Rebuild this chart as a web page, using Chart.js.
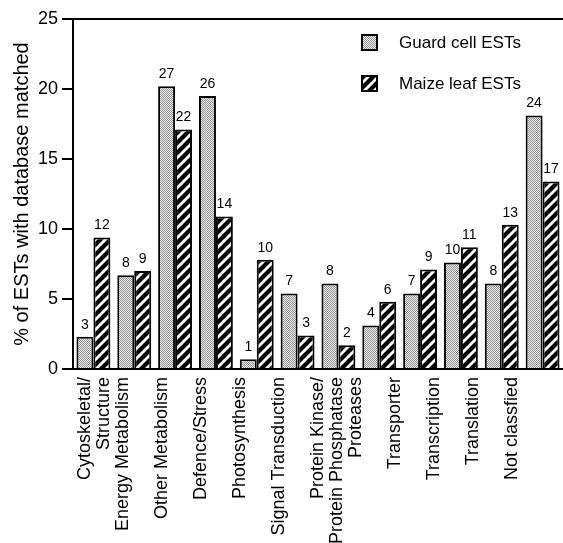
<!DOCTYPE html>
<html>
<head>
<meta charset="utf-8">
<script src="https://cdn.jsdelivr.net/npm/chart.js@4.4.1/dist/chart.umd.min.js"></script>
<style>
  html, body { margin: 0; padding: 0; background: #fff; }
  #wrap { width: 563px; height: 543px; position: relative; }
</style>
</head>
<body>
<div id="wrap"><canvas id="graficoEST"></canvas></div>
<script>
// categorias (rótulos do eixo x)
const categorias = [
  ['Cytoskeletal/', 'Structure'],
  'Energy Metabolism',
  'Other Metabolism',
  'Defence/Stress',
  'Photosynthesis',
  'Signal Transduction',
  ['Protein Kinase/', 'Protein Phosphatase'],
  'Proteases',
  'Transporter',
  'Transcription',
  'Translation',
  'Not classfied'
];

// % de ESTs por série
const guardCell = [2.3, 6.7, 20.2, 19.5, 0.7, 5.4, 6.1, 3.1, 5.4, 7.6, 6.1, 18.1];
const maizeLeaf = [9.4, 7.0, 17.1, 10.9, 7.8, 2.4, 1.7, 4.8, 7.1, 8.7, 10.3, 13.4];

// contagens escritas em cima das barras
const guardN = [3, 8, 27, 26, 1, 7, 8, 4, 7, 10, 8, 24];
const maizeN = [12, 9, 22, 14, 10, 3, 2, 6, 9, 11, 13, 17];

const yTicks = [0, 5, 10, 15, 20, 25];
const nomesSeries = ['Guard cell ESTs', 'Maize leaf ESTs'];

Chart.defaults.font.family = '"Liberation Sans", Arial, Helvetica, sans-serif';
Chart.defaults.color = '#000';

// padrão pontilhado cinza
function padraoPontos() {
  const c = document.createElement('canvas');
  c.width = 4; c.height = 4;
  const g = c.getContext('2d');
  g.fillStyle = '#ececec';
  g.fillRect(0, 0, 4, 4);
  g.fillStyle = '#959595';
  for (let x = 0; x < 4; x++) {
    for (let y = 0; y < 4; y++) {
      if ((x + y) % 2 === 0) g.fillRect(x, y, 1, 1);
    }
  }
  return g.createPattern(c, 'repeat');
}

// padrão listrado diagonal preto/branco
function padraoListras() {
  const c = document.createElement('canvas');
  c.width = 10; c.height = 10;
  const g = c.getContext('2d');
  g.fillStyle = '#fff';
  g.fillRect(0, 0, 10, 10);
  g.strokeStyle = '#000';
  g.lineWidth = 4.2;
  [[0, 10, 10, 0], [-5, 5, 5, -5], [5, 15, 15, 5]].forEach(l => {
    g.beginPath();
    g.moveTo(l[0], l[1]);
    g.lineTo(l[2], l[3]);
    g.stroke();
  });
  return g.createPattern(c, 'repeat');
}

const fillGuard = padraoPontos();
const fillMaize = padraoListras();

// números acima das barras
const rotulosBarras = {
  id: 'rotulosBarras',
  afterDatasetsDraw(chart) {
    const ctx = chart.ctx;
    const contagens = [guardN, maizeN];
    ctx.save();
    ctx.font = '14px "Liberation Sans", Arial, sans-serif';
    ctx.fillStyle = '#000';
    ctx.textAlign = 'center';
    ctx.textBaseline = 'bottom';
    contagens.forEach((arr, di) => {
      chart.getDatasetMeta(di).data.forEach((el, i) => {
        ctx.fillText(String(arr[i]), el.x, el.y - 5);
      });
    });
    ctx.restore();
  }
};

// legenda dentro da área do gráfico
const legendaInterna = {
  id: 'legendaInterna',
  afterDraw(chart) {
    const ctx = chart.ctx;
    const a = chart.chartArea;
    const fills = [fillGuard, fillMaize];
    ctx.save();
    ctx.font = '17px "Liberation Sans", Arial, sans-serif';
    ctx.textBaseline = 'middle';
    ctx.textAlign = 'left';
    nomesSeries.forEach((nome, i) => {
      const bx = a.left + 289;
      const by = a.top + 16 + i * 41;
      ctx.fillStyle = fills[i];
      ctx.fillRect(bx, by, 15, 15);
      ctx.strokeStyle = '#000';
      ctx.lineWidth = 2;
      ctx.strokeRect(bx, by, 15, 15);
      ctx.fillStyle = '#000';
      ctx.fillText(nome, bx + 37, by + 8);
    });
    ctx.restore();
  }
};

const semPadding = (scale) => { scale.paddingLeft = 0; scale.paddingRight = 0; };

new Chart(document.getElementById('graficoEST'), {
  type: 'bar',
  data: {
    labels: categorias.map((c, i) => i),
    datasets: [
      {
        label: nomesSeries[0],
        data: guardCell,
        backgroundColor: fillGuard,
        borderColor: '#000',
        borderWidth: 2,
        categoryPercentage: 0.83,
        barPercentage: 1.0
      },
      {
        label: nomesSeries[1],
        data: maizeLeaf,
        backgroundColor: fillMaize,
        borderColor: '#000',
        borderWidth: 2,
        categoryPercentage: 0.83,
        barPercentage: 1.0
      }
    ]
  },
  plugins: [rotulosBarras, legendaInterna],
  options: {
    responsive: true,
    maintainAspectRatio: false,
    animation: false,
    layout: { padding: { top: 19, right: 0, left: 0, bottom: 0 } },
    plugins: {
      legend: { display: false },
      tooltip: { enabled: false }
    },
    scales: {
      x: {
        position: 'bottom',
        grid: { display: false, drawTicks: false },
        border: { display: true, color: '#000', width: 2 },
        ticks: { display: false },
        afterFit: semPadding
      },
      // eixo só para os rótulos (o original tem rótulos um pouco desalinhados)
      xl: {
        type: 'linear',
        position: 'bottom',
        offset: false,
        min: -0.30,
        max: 12.32,
        afterBuildTicks: (scale) => { scale.ticks = categorias.map((c, i) => ({ value: i })); },
        grid: { display: false, drawTicks: false, offset: false },
        border: { display: false },
        ticks: {
          autoSkip: false,
          maxRotation: 90,
          minRotation: 90,
          padding: 8,
          font: { size: 18, lineHeight: 1.1 },
          callback: (v) => categorias[v]
        },
        afterFit: (scale) => { scale.height = 174; semPadding(scale); }
      },
      y: {
        min: 0,
        max: 25,
        afterBuildTicks: (scale) => { scale.ticks = yTicks.map(v => ({ value: v })); },
        grid: {
          color: (c) => (c.tick && c.tick.value === 25 ? '#000' : 'rgba(0,0,0,0)'),
          tickColor: '#000',
          lineWidth: 2,
          tickLength: 11,
          drawTicks: true
        },
        border: { display: true, color: '#000', width: 2 },
        ticks: { padding: 4, font: { size: 18 } },
        title: {
          display: true,
          text: '% of ESTs with database matched',
          font: { size: 20 },
          padding: { top: 10, bottom: 4 }
        },
        afterFit: (scale) => { scale.width = 73; }
      }
    }
  }
});
</script>
</body>
</html>
